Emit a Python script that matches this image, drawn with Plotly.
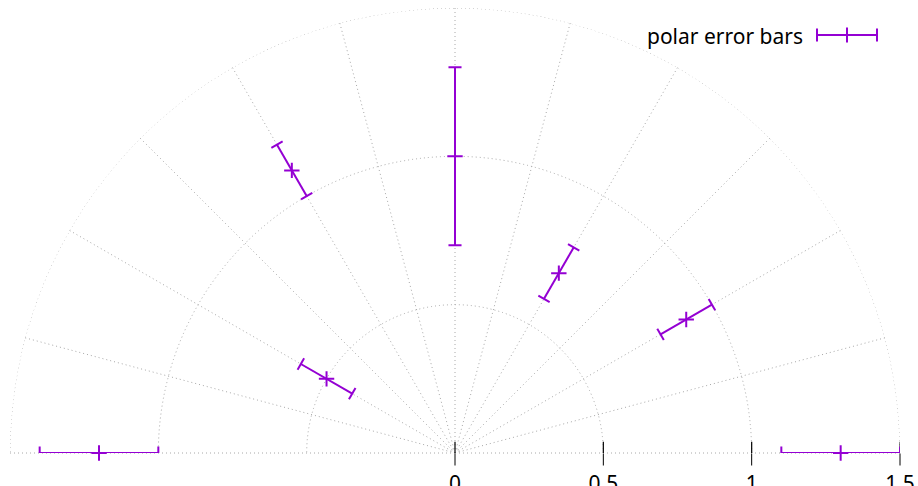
import numpy as np
import plotly.graph_objects as go

# ---- data ----
theta_deg = [0, 30, 60, 90, 120, 150, 180]
radius = [1.3, 0.9, 0.7, 1.0, 1.1, 0.5, 1.2]
error = [0.2, 0.1, 0.1, 0.3, 0.1, 0.1, 0.2]
tick_vals = [0, 0.5, 1, 1.5]
tick_text = ["0", "0.5", "1", "1.5"]
legend_label = "polar error bars"

PURPLE = "#9400D3"
GRID = "#a8a8a8"
DOTS = "1px,3px"
W, H = 918, 486
R_MAX = 1.5
CAP = 0.022  # half cap length in radial units

# polar domain in pixels
x0, x1 = 10, 900
y_top, y_base = 8, 453

# error bar segments and caps (polar coordinates)
bar_r, bar_t = [], []
for t, r, e in zip(theta_deg, radius, error):
    bar_r += [r - e, r + e, None]
    bar_t += [t, t, None]
    for re_ in (r - e, r + e):
        rc = np.hypot(re_, CAP)
        dt = np.degrees(np.arctan2(CAP, re_))
        bar_r += [rc, rc, None]
        bar_t += [t - dt, t + dt, None]

# upper halves of the radial axis tick marks
TICK_H = 0.038
tk_r, tk_t = [], []
for v in tick_vals:
    if v == 0:
        tk_r += [0, TICK_H, None]
        tk_t += [90, 90, None]
    else:
        tk_r += [v, np.hypot(v, TICK_H), None]
        tk_t += [0, np.degrees(np.arctan2(TICK_H, v)), None]

# outer dotted circle
circ_t = np.linspace(0, 180, 361)

fig = go.Figure()
fig.add_trace(go.Scatterpolar(r=[R_MAX] * len(circ_t), theta=circ_t, mode="lines",
                              line=dict(color=GRID, width=1, dash=DOTS),
                              hoverinfo="skip", showlegend=False, cliponaxis=False))
fig.add_trace(go.Scatterpolar(r=tk_r, theta=tk_t, mode="lines",
                              line=dict(color="black", width=1.2),
                              hoverinfo="skip", showlegend=False, cliponaxis=False))
fig.add_trace(go.Scatterpolar(r=bar_r, theta=bar_t, mode="lines",
                              line=dict(color=PURPLE, width=2),
                              showlegend=False, cliponaxis=False))
fig.add_trace(go.Scatterpolar(r=radius, theta=theta_deg, mode="markers",
                              marker=dict(symbol="cross-thin", size=11,
                                          line=dict(color=PURPLE, width=2)),
                              showlegend=False, cliponaxis=False))

# legend drawn as text + sample glyph
lx0, lx1, ly = 817, 877, 35
lxc = (lx0 + lx1) / 2
cap_px = 6.5
mk = 7.5
px = lambda x: x / W
py = lambda y: 1 - y / H
shapes = [
    dict(type="line", xref="paper", yref="paper", x0=px(lx0), x1=px(lx1), y0=py(ly), y1=py(ly),
         line=dict(color=PURPLE, width=2)),
    dict(type="line", xref="paper", yref="paper", x0=px(lx0), x1=px(lx0), y0=py(ly - cap_px), y1=py(ly + cap_px),
         line=dict(color=PURPLE, width=2)),
    dict(type="line", xref="paper", yref="paper", x0=px(lx1), x1=px(lx1), y0=py(ly - cap_px), y1=py(ly + cap_px),
         line=dict(color=PURPLE, width=2)),
    dict(type="line", xref="paper", yref="paper", x0=px(lxc), x1=px(lxc), y0=py(ly - mk), y1=py(ly + mk),
         line=dict(color=PURPLE, width=2)),
]

fig.update_layout(
    width=W, height=H,
    margin=dict(l=0, r=0, t=0, b=0),
    paper_bgcolor="white",
    font=dict(family="Noto Sans, Open Sans, sans-serif", size=21, color="black"),
    showlegend=False,
    shapes=shapes,
    annotations=[dict(text=legend_label, xref="paper", yref="paper",
                      x=px(805), y=py(36), xanchor="right", yanchor="middle",
                      showarrow=False, font=dict(size=21, color="black"))],
    polar=dict(
        domain=dict(x=[x0 / W, x1 / W], y=[1 - y_base / H, 1 - y_top / H]),
        sector=[0, 180],
        bgcolor="white",
        radialaxis=dict(range=[0, R_MAX], tickvals=tick_vals, ticktext=tick_text,
                        ticks="outside", ticklen=12, tickwidth=1.2, tickcolor="black",
                        showline=False, angle=0, side="clockwise",
                        showgrid=True, gridcolor=GRID, gridwidth=1, griddash=DOTS,
                        tickfont=dict(size=21, color="black")),
        angularaxis=dict(dtick=15, showticklabels=False, ticks="", showline=False,
                         direction="counterclockwise", rotation=0,
                         showgrid=True, gridcolor=GRID, gridwidth=1, griddash=DOTS),
    ),
)

fig.write_html("out.html", config={"displayModeBar": False},
               post_script="document.body.style.margin='0';document.body.style.overflow='hidden';")
